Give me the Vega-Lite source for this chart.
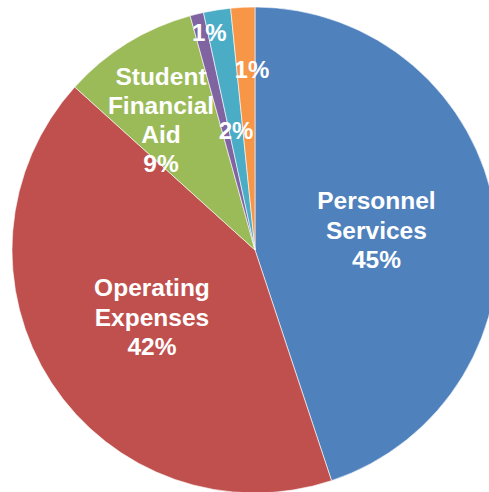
{
  "$schema": "https://vega.github.io/schema/vega-lite/v6.json",
  "autosize": "none",
  "padding": {"left": 21, "top": 8, "right": 0, "bottom": 0},
  "width": 468,
  "height": 484,
  "background": "white",
  "config": {"view": {"stroke": null}},
  "data": {
    "values": [
      {"idx": 1, "category": "Personnel Services", "value": 44.9, "label": ["Personnel", "Services", "45%"]},
      {"idx": 2, "category": "Operating Expenses", "value": 41.8, "label": ["Operating", "Expenses", "42%"]},
      {"idx": 3, "category": "Student Financial Aid", "value": 9.0, "label": ["Student", "Financial", "Aid", "9%"]},
      {"idx": 4, "category": "Other A", "value": 0.9, "label": "1%"},
      {"idx": 5, "category": "Other B", "value": 1.8, "label": "2%"},
      {"idx": 6, "category": "Other C", "value": 1.6, "label": "1%"}
    ]
  },
  "encoding": {
    "theta": {"field": "value", "type": "quantitative", "stack": true},
    "order": {"field": "idx", "type": "quantitative"}
  },
  "layer": [
    {
      "mark": {"type": "arc", "radius": 243, "stroke": "white", "strokeWidth": 0.6},
      "encoding": {
        "color": {
          "field": "category",
          "type": "nominal",
          "legend": null,
          "sort": ["Personnel Services", "Operating Expenses", "Student Financial Aid", "Other A", "Other B", "Other C"],
          "scale": {
            "domain": ["Personnel Services", "Operating Expenses", "Student Financial Aid", "Other A", "Other B", "Other C"],
            "range": ["#4F81BD", "#C0504D", "#9BBB59", "#8064A2", "#4BACC6", "#F79646"]
          }
        }
      }
    },
    {
      "mark": {"type": "text", "radius": 123, "dy": -28, "font": "Liberation Sans", "fontWeight": "bold", "fontSize": 24.5, "lineHeight": 29.5, "fill": "white", "align": "center", "baseline": "middle"},
      "encoding": {
        "text": {"condition": {"test": "datum.idx == 1 || datum.idx == 2", "field": "label"}, "value": ""}
      }
    },
    {
      "mark": {"type": "text", "radius": 121, "dy": 2, "font": "Liberation Sans", "fontWeight": "bold", "fontSize": 24, "fill": "white", "align": "center", "baseline": "middle"},
      "encoding": {
        "text": {"condition": {"test": "datum.idx == 5", "field": "label"}, "value": ""}
      }
    },
    {
      "mark": {"type": "text", "radius": 160, "dx": -10, "dy": -36, "font": "Liberation Sans", "fontWeight": "bold", "fontSize": 24.5, "lineHeight": 29, "fill": "white", "align": "center", "baseline": "middle"},
      "encoding": {
        "text": {"condition": {"test": "datum.idx == 3", "field": "label"}, "value": ""}
      }
    },
    {
      "mark": {"type": "text", "radius": 180, "dx": 6, "dy": 1, "font": "Liberation Sans", "fontWeight": "bold", "fontSize": 24, "fill": "white", "align": "center", "baseline": "middle"},
      "encoding": {
        "text": {"condition": {"test": "datum.idx == 6", "field": "label"}, "value": ""}
      }
    },
    {
      "mark": {"type": "text", "radius": 220, "dx": 7, "dy": -2, "font": "Liberation Sans", "fontWeight": "bold", "fontSize": 24, "fill": "white", "align": "center", "baseline": "middle"},
      "encoding": {
        "text": {"condition": {"test": "datum.idx == 4", "field": "label"}, "value": ""}
      }
    }
  ]
}
